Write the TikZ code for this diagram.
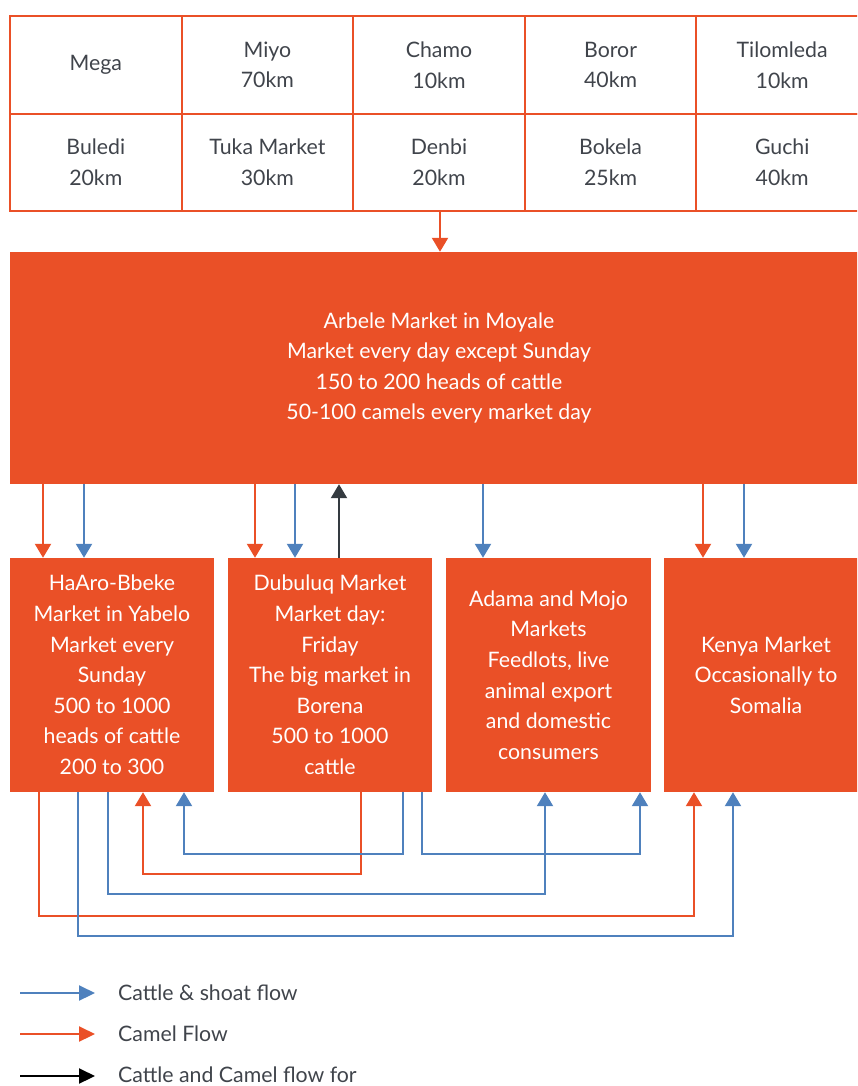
\documentclass[tikz,border=0pt]{standalone}
\usepackage{fontspec}
\setmainfont{Lato}
\usetikzlibrary{arrows.meta}
\definecolor{org}{RGB}{234,80,39}
\definecolor{blu}{RGB}{79,129,189}
\definecolor{dgr}{RGB}{52,58,64}
\definecolor{txt}{RGB}{64,68,75}
\tikzset{
  cell/.style={draw=org, line width=2pt, minimum width=171.6pt, text=txt, align=center, inner sep=0pt,
    font=\fontsize{21.3}{30.6}\selectfont},
  mbox/.style={fill=org, draw=none, text=white, align=center, inner sep=0pt,
    font=\fontsize{21.3}{30.6}\selectfont},
  flow/.style={line width=2.2pt, -{Triangle[width=16pt,length=14pt]}},
  camel/.style={flow, draw=org},
  cattle/.style={flow, draw=blu},
  both/.style={flow, draw=dgr},
  legtxt/.style={anchor=base west, text=txt, inner sep=0pt, font=\fontsize{21.3}{30.6}\selectfont},
}
\begin{document}
\begin{tikzpicture}[x=1pt,y=-1pt]
\clip (0,0) rectangle (857,1086);
\useasboundingbox (0,0) rectangle (857,1086);
% table
\node[cell, minimum height=98pt] (t11) at (95.8,65) {Mega};
\node[cell, minimum height=98pt] (t12) at (267.4,65) {Miyo\\70km};
\node[cell, minimum height=98pt] (t13) at (439,65) {Chamo\\10km};
\node[cell, minimum height=98pt] (t14) at (610.6,65) {Boror\\40km};
\node[cell, minimum height=98pt] (t15) at (782.2,65) {Tilomleda\\10km};
\node[cell, minimum height=97pt] (t21) at (95.8,162.5) {Buledi\\20km};
\node[cell, minimum height=97pt] (t22) at (267.4,162.5) {Tuka Market\\30km};
\node[cell, minimum height=97pt] (t23) at (439,162.5) {Denbi\\20km};
\node[cell, minimum height=97pt] (t24) at (610.6,162.5) {Bokela\\25km};
\node[cell, minimum height=97pt] (t25) at (782.2,162.5) {Guchi\\40km};
% main market
\node[mbox, minimum width=858pt, minimum height=232pt] (arb) at (439,368)
  {Arbele Market in Moyale\\Market every day except Sunday\\150 to 200 heads of cattle\\50-100 camels every market day};
\node[mbox, minimum width=204pt, minimum height=234pt] (b1) at (112,675)
  {HaAro-Bbeke\\Market in Yabelo\\Market every\\Sunday\\500 to 1000\\heads of cattle\\200 to 300};
\node[mbox, minimum width=204pt, minimum height=234pt] (b2) at (330,675)
  {Dubuluq Market\\Market day:\\Friday\\The big market in\\Borena\\500 to 1000\\cattle};
\node[mbox, minimum width=205pt, minimum height=234pt] (b3) at (548.5,675)
  {Adama and Mojo\\Markets\\Feedlots, live\\animal export\\and domestic\\consumers};
\node[mbox, minimum width=204pt, minimum height=234pt] (b4) at (766,675)
  {Kenya Market\\Occasionally to\\Somalia};
% table to main
\draw[camel] (t23.south -| 440,0) -- (arb.north -| 440,0);
% main to boxes
\draw[camel] (arb.south -| 43,0) -- (b1.north -| 43,0);
\draw[cattle] (arb.south -| 84,0) -- (b1.north -| 84,0);
\draw[camel] (arb.south -| 255,0) -- (b2.north -| 255,0);
\draw[cattle] (arb.south -| 295,0) -- (b2.north -| 295,0);
\draw[both] (b2.north -| 339,0) -- (arb.south -| 339,0);
\draw[cattle] (arb.south -| 483,0) -- (b3.north -| 483,0);
\draw[camel] (arb.south -| 703,0) -- (b4.north -| 703,0);
\draw[cattle] (arb.south -| 744,0) -- (b4.north -| 744,0);
% bottom connectors
\draw[camel] (b1.south -| 39,0) -- (39,916) -| (b4.south -| 694,0);
\draw[cattle] (b1.south -| 78,0) -- (78,936) -| (b4.south -| 733,0);
\draw[cattle] (b1.south -| 108,0) -- (108,894) -| (b3.south -| 545,0);
\draw[camel] (b2.south -| 361,0) -- (361,874) -| (b1.south -| 143,0);
\draw[cattle] (b2.south -| 403,0) -- (403,854) -| (b1.south -| 184,0);
\draw[cattle] (b2.south -| 422,0) -- (422,854) -| (b3.south -| 640,0);
% legend
\coordinate (l1a) at (20,993); \coordinate (l1b) at (95,993);
\coordinate (l2a) at (20,1034); \coordinate (l2b) at (95,1034);
\coordinate (l3a) at (20,1076); \coordinate (l3b) at (95,1076);
\draw[cattle, -{Triangle[width=15pt,length=16pt]}] (l1a) -- (l1b);
\draw[camel, -{Triangle[width=15pt,length=16pt]}] (l2a) -- (l2b);
\draw[flow, draw=black, -{Triangle[width=15pt,length=16pt]}] (l3a) -- (l3b);
\node[legtxt] (lt1) at (118,1000.5) {Cattle \& shoat flow};
\node[legtxt] (lt2) at (118,1041.5) {Camel Flow};
\node[legtxt] (lt3) at (118,1082) {Cattle and Camel flow for};
\end{tikzpicture}
\end{document}
